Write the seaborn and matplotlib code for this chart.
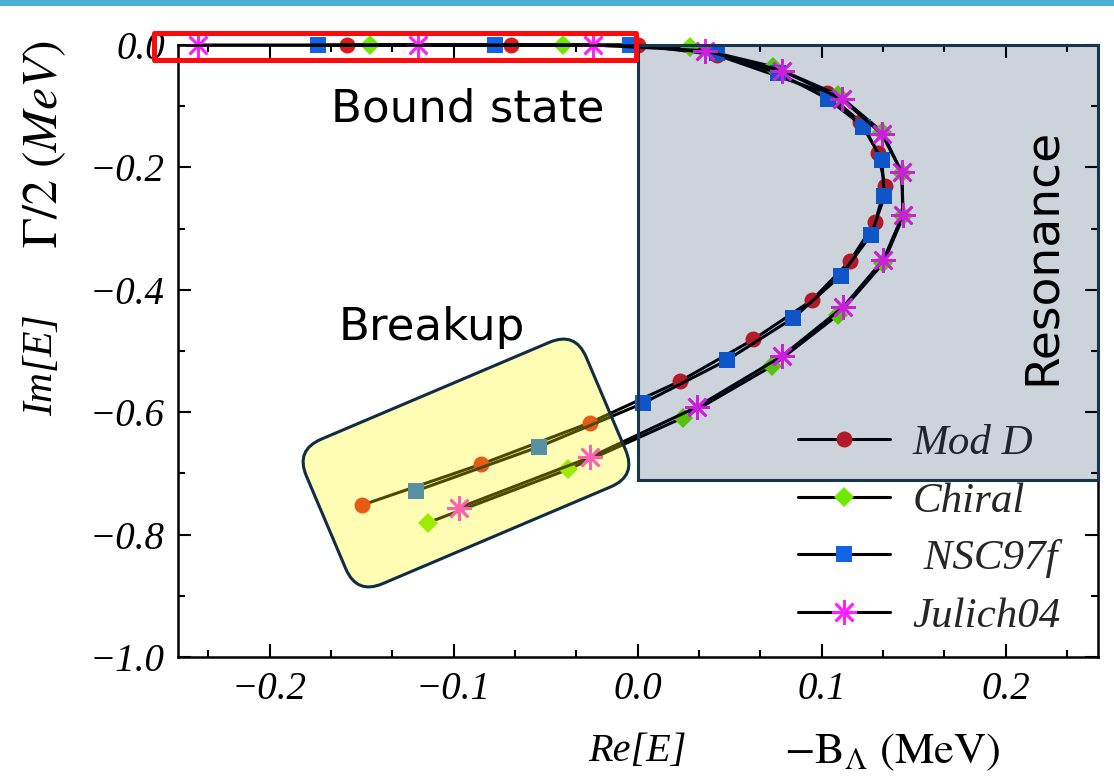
import matplotlib
matplotlib.use("Agg")
import matplotlib.pyplot as plt
import pandas as pd
import seaborn as sns
from matplotlib.patches import Rectangle, FancyBboxPatch
from matplotlib.transforms import Affine2D
from matplotlib.ticker import MultipleLocator

# Pole trajectories in the complex energy plane, Re[E] and Im[E] in MeV
models = ["Mod D", "Chiral", "NSC97f", "Julich04"]
legend_labels = ["Mod D", "Chiral", " NSC97f", "Julich04"]

mod_d_re = [-0.1580, -0.0689, 0.0004, 0.0430, 0.1028, 0.1209, 0.1307, 0.1345,
            0.1291, 0.1155, 0.0947, 0.0629, 0.0231, -0.0258, -0.0852, -0.1499]
mod_d_im = [0.0, 0.0, 0.0, -0.0163, -0.0788, -0.1251, -0.1757, -0.2312,
            -0.2899, -0.3524, -0.4171, -0.4812, -0.5493, -0.6171, -0.6852, -0.7520]

chiral_re = [-0.1454, -0.0403, 0.0285, 0.0736, 0.1090, 0.1327, 0.1436, 0.1443,
             0.1336, 0.1091, 0.0729, 0.0246, -0.0376, -0.1137]
chiral_im = [0.0, 0.0, -0.0028, -0.0354, -0.0816, -0.1414, -0.2088, -0.2801,
             -0.3561, -0.4405, -0.5248, -0.6090, -0.6933, -0.7803]

nsc_re = [-0.1735, -0.0774, -0.0041, 0.0430, 0.0764, 0.1035, 0.1226, 0.1327,
          0.1341, 0.1269, 0.1104, 0.0847, 0.0485, 0.0028, -0.0534, -0.1204]
nsc_im = [0.0, 0.0, 0.0, -0.0135, -0.0457, -0.0881, -0.1333, -0.1876,
          -0.2475, -0.3100, -0.3768, -0.4458, -0.5150, -0.5856, -0.6563, -0.7287]

julich_re = [-0.2387, -0.1191, -0.0240, 0.0367, 0.0785, 0.1110, 0.1327, 0.1436,
             0.1441, 0.1336, 0.1118, 0.0784, 0.0325, -0.0258, -0.0968]
julich_im = [0.0, 0.0, 0.0, -0.0093, -0.0420, -0.0886, -0.1452, -0.2083,
             -0.2773, -0.3507, -0.4279, -0.5085, -0.5910, -0.6737, -0.7558]

x_ticks = [-0.2, -0.1, 0.0, 0.1, 0.2]
y_ticks = [0.0, -0.2, -0.4, -0.6, -0.8, -1.0]

re_vals = [mod_d_re, chiral_re, nsc_re, julich_re]
im_vals = [mod_d_im, chiral_im, nsc_im, julich_im]

frames = []
for name, re, im in zip(models, re_vals, im_vals):
    frames.append(pd.DataFrame({"re": re, "im": im, "model": name}))
df = pd.concat(frames, ignore_index=True)

# marker styling per model
styles = {
    "Mod D":    dict(marker="o", ms=11.5, mfc="#DC1A1E", mec="#DC1A1E", mew=0),
    "Chiral":   dict(marker="D", ms=10.0, mfc="#70E800", mec="#70E800", mew=0),
    "NSC97f":   dict(marker="s", ms=11.0, mfc="#1262E6", mec="#1262E6", mew=0),
    "Julich04": dict(marker=(8, 2, 0), ms=18.0, mfc="#FF1FFF", mec="#FF1FFF", mew=1.9),
}


def tick_text(v):
    return f"{v:.1f}".replace("-", "\u2212")


sns.set_theme(style="ticks")
plt.rcParams["font.family"] = ["Liberation Serif", "DejaVu Serif"]
plt.rcParams["mathtext.fontset"] = "stix"
plt.rcParams["axes.edgecolor"] = "black"
plt.rcParams["xtick.color"] = "black"
plt.rcParams["ytick.color"] = "black"

W, H = 1114, 778
fig = plt.figure(figsize=(W / 100, H / 100), dpi=100)
fig.patch.set_facecolor("white")
ax = fig.add_axes([177.5 / W, 1 - 657 / H, 920.2 / W, 612 / H])
ax.set_facecolor("white")

for name, lab in zip(models, legend_labels):
    sub = df[df["model"] == name]
    sns.lineplot(data=sub, x="re", y="im", sort=False, estimator=None,
                 color="black", lw=2.2, label=lab, legend=False, ax=ax,
                 **styles[name])
for ln in ax.get_lines():
    ln.set_clip_on(False)

ax.set_xlim(-0.25, 0.25)
ax.set_ylim(-1.0, 0.0)
ax.set_xticks(x_ticks, labels=[tick_text(v) for v in x_ticks],
              fontstyle="italic", fontsize=28)
ax.set_yticks(y_ticks, labels=[tick_text(v) for v in y_ticks],
              fontstyle="italic", fontsize=28)
ax.xaxis.set_minor_locator(MultipleLocator(0.1 / 3))
ax.yaxis.set_minor_locator(MultipleLocator(0.1))
ax.set_xlabel("")
ax.set_ylabel("")
for sp in ax.spines.values():
    sp.set_linewidth(1.8)
    sp.set_color("black")
ax.tick_params(which="both", direction="in", top=True, right=True, width=1.5)
ax.tick_params(which="major", length=9.5)
ax.tick_params(which="minor", length=5)
ax.tick_params(axis="x", which="major", pad=10)
ax.tick_params(axis="y", which="major", pad=9)

leg = ax.legend(loc="upper left", bbox_to_anchor=(0.674, 0.381), frameon=False,
                prop=dict(family="Liberation Serif", style="italic", size=31),
                handlelength=2.14, handletextpad=0.53, labelspacing=0.43,
                borderpad=0, borderaxespad=0)

# shaded regions of the plane
ax.add_patch(Rectangle((0.0, -0.711), 0.25, 0.711, transform=ax.transData,
                       facecolor=(2 / 255, 35 / 255, 77 / 255, 0.2),
                       edgecolor="#15364C", lw=2.2, zorder=6, clip_on=False))
ax.add_patch(Rectangle((-0.2625, -0.0253), 0.2614, 0.0457, fill=False,
                       edgecolor="#FF0A0A", lw=3.6, zorder=7, clip_on=False,
                       joinstyle="round"))

px = Affine2D().scale(1 / W, -1 / H).translate(0, 1) + fig.transFigure
cx, cy, bw, bh = 466, 463, 304, 157
breakup = FancyBboxPatch((cx - bw / 2, cy - bh / 2), bw, bh,
                         boxstyle="round,pad=0,rounding_size=28",
                         transform=Affine2D().rotate_deg_around(cx, cy, -23) + px,
                         facecolor=(1.0, 248 / 255, 8 / 255, 0.3),
                         edgecolor="#0F2D44", lw=2.2, zorder=6)
fig.add_artist(breakup)

# header strip
fig.add_artist(Rectangle((0, 1 - 6 / H), 1, 6 / H, transform=fig.transFigure,
                         facecolor="#4BB1D5", edgecolor="none", zorder=10))

sans = dict(family="DejaVu Sans", style="normal", color="black")
fig.text(468 / W, 1 - 121.7 / H, "Bound state", ha="center", va="baseline",
         fontsize=32.5, zorder=8, **sans)
fig.text(432 / W, 1 - 340 / H, "Breakup", ha="center", va="baseline",
         fontsize=32.5, zorder=8, **sans)
fig.text(1055 / W, 1 - 256 / H, "Resonance", rotation=90, rotation_mode="anchor",
         ha="center", va="baseline", fontsize=34, zorder=8, **sans)

serif = dict(family="Liberation Serif", style="italic", color="black")
fig.text(42 / W, 1 - 365 / H, "Im[E]", rotation=90, ha="center", va="center",
         fontsize=30, **serif)
fig.text(45 / W, 1 - 144 / H, r"$\Gamma/2\ (MeV)$", rotation=90, ha="center",
         va="center", fontsize=36, color="black")
fig.text(637 / W, 1 - 752 / H, "Re[E]", ha="center", va="center",
         fontsize=29, **serif)
fig.text(892 / W, 1 - 752 / H, r"$-\mathrm{B}_{\Lambda}\ (\mathrm{MeV})$",
         ha="center", va="center", fontsize=32, color="black")

fig.savefig("out.png", dpi=100)
